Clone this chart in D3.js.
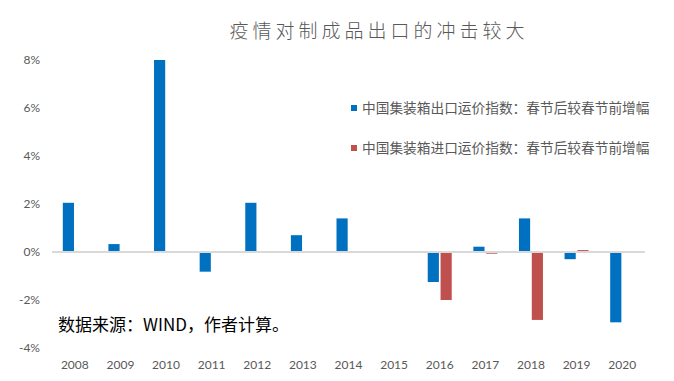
<head>
    <style> body { margin: 0; background: #fff; } </style>
    <script src="https://d3js.org/d3.v7.min.js"></script>
</head>
<body>
    <svg id="chart" width="674" height="381"></svg>
    <script>
        const years = ['2008', '2009', '2010', '2011', '2012', '2013', '2014', '2015', '2016', '2017', '2018', '2019', '2020'];
        // 中国集装箱出口运价指数 (%), null = no bar
        const exportVals = [2.05, 0.33, 8.0, -0.82, 2.05, 0.7, 1.4, null, -1.25, 0.22, 1.4, -0.3, -2.93];
        // 中国集装箱进口运价指数 (%)
        const importVals = [null, null, null, null, null, null, null, null, -2.0, -0.07, -2.83, 0.08, null];
        const seriesNames = ['中国集装箱出口运价指数：春节后较春节前增幅', '中国集装箱进口运价指数：春节后较春节前增幅'];
        const yTicks = [-4, -2, 0, 2, 4, 6, 8];
        const title = '疫情对制成品出口的冲击较大';
        const note = '数据来源：WIND，作者计算。';

        const colors = ['#0070C0', '#C0504D'];
        const numFont = "Lato, 'Noto Sans CJK SC', sans-serif";
        const cjkFont = "'Noto Sans CJK SC', sans-serif";

        const svg = d3.select('#chart');

        const x = d3.scaleBand().domain(years).range([52, 645]).padding(0);
        const y = d3.scaleLinear().domain([-4, 8]).range([348, 60]);
        const sub = d3.scaleBand().domain([0, 1]).range([-12, 12]).paddingInner(0.13);

        // title
        svg.append('text')
            .attr('x', 379).attr('y', 38)
            .attr('text-anchor', 'middle')
            .attr('font-family', cjkFont)
            .attr('font-weight', 300)
            .attr('font-size', 19)
            .attr('letter-spacing', 4)
            .attr('fill', '#595959')
            .text(title);

        // y axis labels
        svg.append('g')
            .selectAll('text')
            .data(yTicks)
            .join('text')
                .attr('x', 40)
                .attr('y', d => y(d))
                .attr('dy', '0.35em')
                .attr('text-anchor', 'end')
                .attr('font-family', numFont)
                .attr('font-size', 12)
                .attr('fill', '#595959')
                .text(d => d + '%');

        // x labels
        svg.append('g')
            .selectAll('text')
            .data(years)
            .join('text')
                .attr('x', d => x(d) + x.bandwidth() / 2)
                .attr('y', 369)
                .attr('text-anchor', 'middle')
                .attr('font-family', numFont)
                .attr('font-size', 12)
                .attr('fill', '#595959')
                .text(d => d);

        // bars
        const series = [exportVals, importVals];
        series.forEach((vals, si) => {
            svg.append('g')
                .selectAll('rect')
                .data(years.map((yr, i) => ({ yr, v: vals[i] })).filter(d => d.v !== null))
                .join('rect')
                    .attr('x', d => x(d.yr) + x.bandwidth() / 2 + sub(si))
                    .attr('width', sub.bandwidth())
                    .attr('y', d => y(Math.max(0, d.v)))
                    .attr('height', d => Math.abs(y(d.v) - y(0)))
                    .attr('fill', colors[si]);
        });

        // zero line
        svg.append('line')
            .attr('x1', 52).attr('x2', 645)
            .attr('y1', y(0)).attr('y2', y(0))
            .attr('stroke', '#d9d9d9')
            .attr('stroke-width', 2);

        // legend
        const legend = svg.append('g')
            .selectAll('g')
            .data(seriesNames)
            .join('g')
                .attr('transform', (d, i) => `translate(351,${108 + i * 40})`);
        legend.append('rect')
            .attr('x', 0).attr('y', -3)
            .attr('width', 6).attr('height', 6)
            .attr('fill', (d, i) => colors[i]);
        legend.append('text')
            .attr('x', 11).attr('dy', '0.35em')
            .attr('font-family', cjkFont)
            .attr('font-size', 13.7)
            .attr('fill', '#595959')
            .text(d => d);

        // source note
        svg.append('text')
            .attr('x', 58).attr('y', 331)
            .attr('font-family', cjkFont)
            .attr('font-size', 17)
            .attr('fill', '#000')
            .text(note);
    </script>
</body>
